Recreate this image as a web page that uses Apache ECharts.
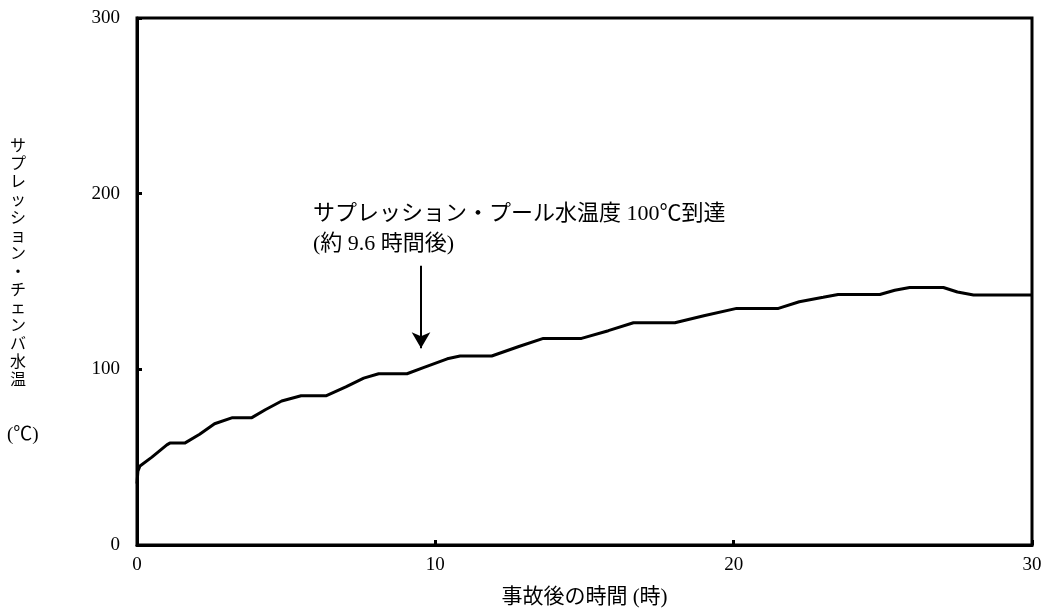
<!DOCTYPE html>
<html lang="ja">
<head>
    <meta charset="UTF-8">
    <title>サプレッション・チェンバ水温</title>
    <script src="https://cdn.jsdelivr.net/npm/echarts@6/dist/echarts.min.js"></script>
    <style>
        html, body { margin: 0; padding: 0; background: #fff; }
    </style>
</head>
<body>
    <div id="main" style="width: 1053px; height: 613px;"></div>
    <script>
        // 事故後の時間 (時)
        const hours = [0, 0.03, 0.1, 0.5, 1.0, 1.1, 1.6, 2.1, 2.6, 3.2, 3.85, 4.3, 4.85, 5.5, 6.35, 7.0, 7.6,
            8.1, 9.05, 9.6, 10.4, 10.83, 11.89, 12.8, 13.62, 14.9, 15.8, 16.64, 18.03, 19.0, 20.1, 21.5,
            22.2, 23.0, 23.5, 24.9, 25.4, 25.9, 27.03, 27.5, 28.04, 30]
        // サプレッション・チェンバ水温 (℃)
        const temps = [35, 42, 45, 50, 57, 58, 58, 63, 69, 72.5, 72.5, 77, 82, 85, 85, 90, 95,
            97.5, 97.5, 101, 106, 107.6, 107.6, 113, 117.6, 117.6, 122, 126.5, 126.5, 130.5, 134.7, 134.7,
            138.5, 141, 142.6, 142.6, 145, 146.6, 146.6, 144, 142.3, 142.3]
        const xTicks = [0, 10, 20, 30]
        const yTicks = [0, 100, 200, 300]
        // 100℃到達の矢印 (時間, 始点温度, 終点温度)
        const arrowAt = [9.52, 159, 112]

        const yLabelText = 'サプレッション・チェンバ水温'
        const font = '"Liberation Serif", "Noto Sans CJK JP", serif'

        function init () {
            const myChart = echarts.init(document.getElementById('main'))
            const option = {
                animation: false,
                textStyle: { fontFamily: font, color: '#000' },
                grid: {
                    left: 137, right: 21, top: 18, bottom: 68,
                    show: true, borderColor: '#000', borderWidth: 3
                },
                xAxis: {
                    type: 'value',
                    min: xTicks[0], max: xTicks[xTicks.length - 1], interval: 10,
                    name: '事故後の時間 (時)',
                    nameLocation: 'middle',
                    nameGap: 42,
                    nameTextStyle: { fontSize: 21, fontFamily: font, color: '#000' },
                    axisLine: { lineStyle: { color: '#000', width: 3 } },
                    axisTick: { inside: true, length: 5, lineStyle: { color: '#000', width: 3 } },
                    axisLabel: { fontSize: 19, margin: 11, color: '#000', fontFamily: font },
                    splitLine: { show: false }
                },
                yAxis: {
                    type: 'value',
                    min: yTicks[0], max: yTicks[yTicks.length - 1], interval: 100,
                    axisLine: { show: true, lineStyle: { color: '#000', width: 3 } },
                    axisTick: { show: true, inside: true, length: 5, lineStyle: { color: '#000', width: 3 } },
                    axisLabel: { fontSize: 19, margin: 17, color: '#000', fontFamily: font },
                    splitLine: { show: false }
                },
                graphic: [
                    {
                        type: 'text', left: 10, top: 138,
                        style: {
                            text: yLabelText.split('').join('\n'),
                            font: '16px ' + font, lineHeight: 18, fill: '#000', align: 'center'
                        }
                    },
                    {
                        type: 'text', left: 7, top: 426,
                        style: { text: '(℃)', font: '19px ' + font, fill: '#000' }
                    },
                    {
                        type: 'text', left: 313, top: 199,
                        style: {
                            text: 'サプレッション・プール水温度 100℃到達\n(約 9.6 時間後)',
                            font: '22px ' + font, lineHeight: 30, fill: '#000'
                        }
                    }
                ],
                series: [
                    {
                        type: 'line',
                        data: hours.map((h, i) => [h, temps[i]]),
                        showSymbol: false,
                        lineStyle: { color: '#000', width: 3 },
                        markLine: {
                            silent: true,
                            symbol: ['none', 'arrow'],
                            symbolSize: [14, 16],
                            label: { show: false },
                            lineStyle: { color: '#000', width: 2, type: 'solid' },
                            data: [[
                                { coord: [arrowAt[0], arrowAt[1]] },
                                { coord: [arrowAt[0], arrowAt[2]] }
                            ]]
                        }
                    }
                ]
            }
            myChart.setOption(option)
        }

        init()
    </script>
</body>
</html>
